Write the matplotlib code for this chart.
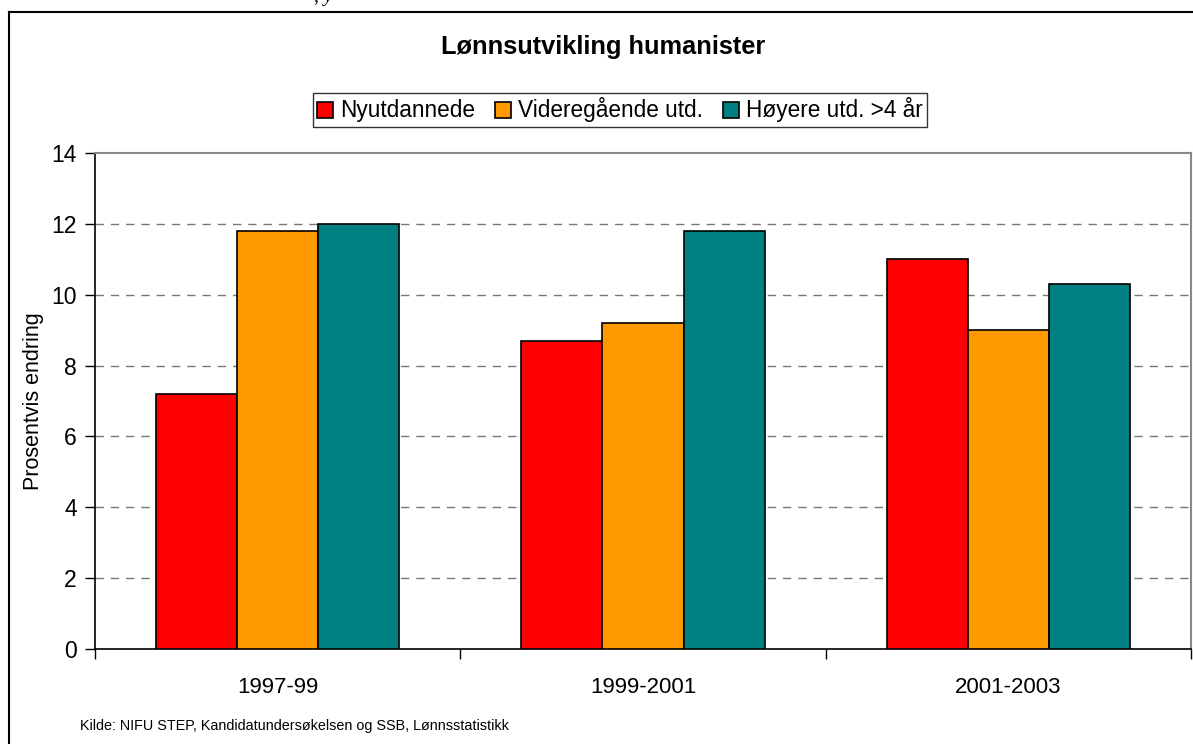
import numpy as np
import matplotlib
matplotlib.use("Agg")
import matplotlib.pyplot as plt
from matplotlib.lines import Line2D

plt.rcParams["font.family"] = ["Liberation Sans", "DejaVu Sans"]

# ── Data ─────────────────────────────────────────────────────────────────────
periods = ["1997-99", "1999-2001", "2001-2003"]
series_names = ["Nyutdannede", "Videregående utd.", "Høyere utd. >4 år"]
nyutdannede = [7.2, 8.7, 11.0]
videregaende = [11.8, 9.2, 9.0]
hoyere = [12.0, 11.8, 10.3]
colors = ["#FF0000", "#FF9900", "#008080"]

W, H = 1193, 744
fig = plt.figure(figsize=(W / 100, H / 100), dpi=100)
ax = fig.add_axes([95 / W, 1 - 649 / H, (1191 - 95) / W, (649 - 153) / H])

x = np.arange(len(periods))
bar_w = 0.222
for i, (vals, name, col) in enumerate(zip([nyutdannede, videregaende, hoyere],
                                          series_names, colors)):
    ax.bar(x + (i - 1) * bar_w, vals, bar_w, color=col, edgecolor="black",
           linewidth=1.2, label=name, zorder=3)

ax.set_xlim(-0.5, len(periods) - 0.5)
ax.set_ylim(0, 14)
ax.set_yticks(np.arange(0, 15, 2))
ax.set_xticks(x)
ax.set_xticklabels(periods, fontsize=16)
ax.set_xticks(np.arange(-0.5, len(periods), 1), minor=True)
ax.tick_params(axis="x", which="major", length=0, pad=20)
ax.tick_params(axis="x", which="minor", length=7, direction="out", width=1)
ax.tick_params(axis="y", length=7, direction="out", width=1, labelsize=16.5, pad=6)
ax.set_ylabel("Prosentvis endring", fontsize=15.5, labelpad=5)

for y in range(2, 14, 2):
    ax.axhline(y, color="#777777", linewidth=1, linestyle=(0, (6, 5)), zorder=1)

ax.spines["top"].set_color("#888888")
ax.spines["right"].set_color("#888888")
ax.spines["top"].set_linewidth(1.5)
ax.spines["right"].set_linewidth(1.5)
ax.spines["left"].set_linewidth(1.2)
ax.spines["bottom"].set_linewidth(1.2)

fig.text(603 / W, 1 - 47 / H, "Lønnsutvikling humanister", ha="center",
         va="center", fontsize=18.3, fontweight="bold")

handles, labels = ax.get_legend_handles_labels()
leg = fig.legend(handles, labels, loc="center", ncol=3,
                 bbox_to_anchor=(620 / W, 1 - 110 / H), fontsize=16.3,
                 frameon=True, fancybox=False, edgecolor="black",
                 handlelength=0.7, handleheight=0.7, handletextpad=0.3,
                 columnspacing=0.9, borderpad=0.2, borderaxespad=0)
leg.get_frame().set_linewidth(1)

fig.text(80 / W, 1 - 726 / H, "Kilde: NIFU STEP, Kandidatundersøkelsen og SSB, Lønnsstatistikk",
         ha="left", va="center", fontsize=10.4)

# outer frame and cut-off text remnant at the top
fig.add_artist(Line2D([8.5 / W, 8.5 / W], [0, 1 - 11.5 / H], color="black", linewidth=1.5))
fig.add_artist(Line2D([8.5 / W, 1], [1 - 11.5 / H, 1 - 11.5 / H], color="black", linewidth=1.5))
fig.text(323 / W, 1 + 2 / H, ", y", ha="center", va="center", fontsize=14,
         family="Liberation Serif", style="italic")

fig.savefig("out.png", dpi=100)
